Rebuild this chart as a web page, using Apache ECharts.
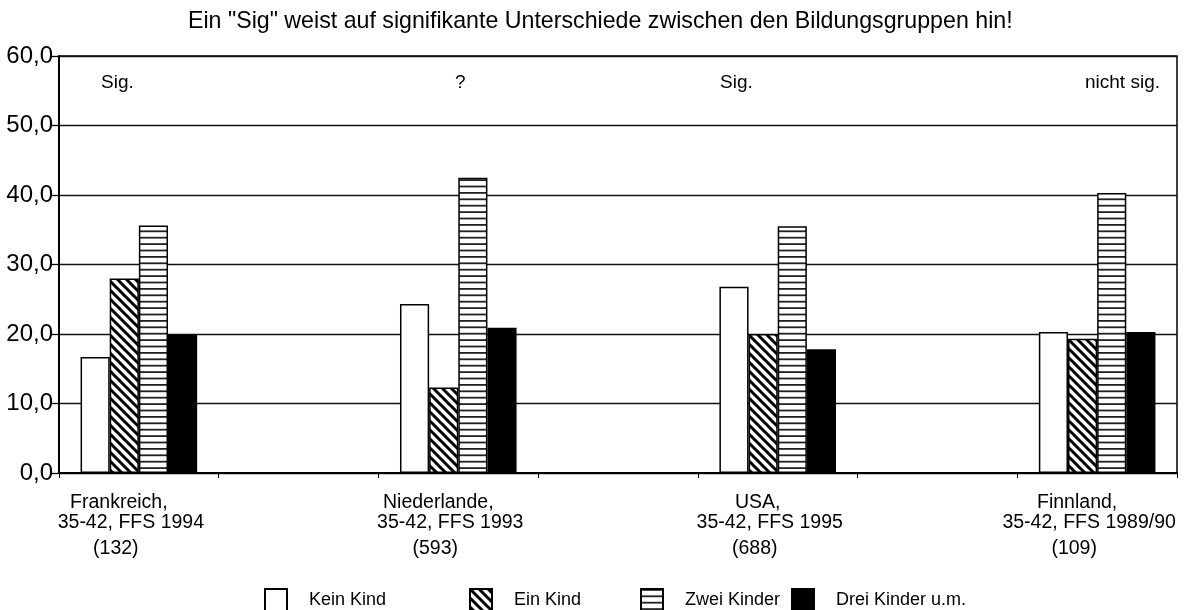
<!DOCTYPE html>
<html>
<head>
<meta charset="utf-8">
<title>Bildungsgruppen</title>
<script src="https://cdn.jsdelivr.net/npm/echarts@6/dist/echarts.min.js"></script>
<style>
  html, body { margin: 0; padding: 0; background: #fff; }
  #chart { width: 1185px; height: 610px; }
</style>
</head>
<body>
<div id="chart"></div>
<script>
// Länder / Erhebungen
const countries = ["Frankreich,", "Niederlande,", "USA,", "Finnland,"];
const surveys = ["35-42, FFS 1994", "35-42, FFS 1993", "35-42, FFS 1995", "35-42, FFS 1989/90"];
const sampleSizes = ["(132)", "(593)", "(688)", "(109)"];
const sigNotes = ["Sig.", "?", "Sig.", "nicht sig."];

const seriesNames = ["Kein Kind", "Ein Kind", "Zwei Kinder", "Drei Kinder u.m."];
const keinKind = [16.7, 24.3, 26.8, 20.3];
const einKind = [28.0, 12.3, 20.0, 19.3];
const zweiKinder = [35.6, 42.5, 35.5, 40.3];
const dreiKinder = [19.9, 20.9, 17.8, 20.3];

const yTicks = [0, 10, 20, 30, 40, 50, 60];

const FONT = '"Liberation Sans", Arial, sans-serif';

// zwischen den Ländern bleibt jeweils eine leere Kategorie
const categories = [];
countries.forEach((c, i) => {
  categories.push(c + "\n" + surveys[i] + "\n" + sampleSizes[i]);
  if (i < countries.length - 1) categories.push("");
});
function spread(values) {
  const out = [];
  values.forEach((v, i) => {
    out.push(v);
    if (i < values.length - 1) out.push("-");
  });
  return out;
}

// Muster
function diagonalPattern() {
  const s = 9;
  const c = document.createElement("canvas");
  c.width = s;
  c.height = s;
  const ctx = c.getContext("2d");
  ctx.fillStyle = "#fff";
  ctx.fillRect(0, 0, s, s);
  ctx.strokeStyle = "#000";
  ctx.lineWidth = 3;
  ctx.beginPath();
  [-s, 0, s].forEach((off) => {
    ctx.moveTo(off - 2, -2);
    ctx.lineTo(off + s + 2, s + 2);
  });
  ctx.stroke();
  return c;
}
function horizontalPattern() {
  const c = document.createElement("canvas");
  c.width = 4;
  c.height = 32;
  const ctx = c.getContext("2d");
  ctx.fillStyle = "#fff";
  ctx.fillRect(0, 0, 4, 32);
  ctx.fillStyle = "#222";
  for (let i = 0; i < 5; i++) {
    ctx.fillRect(0, i * 6.4, 4, 1.8);
  }
  return c;
}

const fills = [
  "#fff",
  { image: diagonalPattern(), repeat: "repeat" },
  { image: horizontalPattern(), repeat: "repeat" },
  "#000",
];
const seriesData = [keinKind, einKind, zweiKinder, dreiKinder];
const legendLefts = [264, 469, 640, 791];
const sigLefts = [101, 455, 720, 1085];

const chart = echarts.init(document.getElementById("chart"));

const option = {
  animation: false,
  backgroundColor: "#fff",
  textStyle: { fontFamily: FONT, color: "#000" },
  title: {
    text: 'Ein "Sig" weist auf signifikante Unterschiede zwischen den Bildungsgruppen hin!',
    left: 188,
    top: 10,
    padding: 0,
    textStyle: { fontFamily: FONT, fontSize: 23.2, fontWeight: "normal", color: "#000" },
  },
  legend: seriesNames.map((name, i) => ({
    data: [name],
    left: legendLefts[i],
    top: 588,
    padding: 0,
    itemWidth: 22,
    itemHeight: 22,
    icon: "rect",
    selectedMode: false,
    textStyle: { fontFamily: FONT, fontSize: 18, color: "#000", padding: [0, 0, 0, 17] },
  })),
  grid: {
    left: 59,
    right: 8,
    top: 56,
    bottom: 137,
    outerBoundsMode: "none",
    containLabel: false,
    show: true,
    borderColor: "#000",
    borderWidth: 1.5,
    backgroundColor: "transparent",
  },
  xAxis: {
    type: "category",
    data: categories,
    axisLine: { lineStyle: { color: "#000", width: 2 } },
    axisTick: { show: true, length: 5, lineStyle: { color: "#000", width: 1 } },
    axisLabel: {
      interval: 0,
      margin: 19.5,
      color: "#000",
      formatter: function (value) {
        if (!value) return "";
        const p = value.split("\n");
        return "{a|" + p[0] + "}\n{b|" + p[1] + "}\n{c|" + p[2] + "}";
      },
      rich: {
        a: { fontFamily: FONT, fontSize: 19.5, color: "#000", lineHeight: 20, padding: [0, 40, 0, 0] },
        b: { fontFamily: FONT, fontSize: 19.5, color: "#000", lineHeight: 21, padding: [0, 16, 0, 0] },
        c: { fontFamily: FONT, fontSize: 19.5, color: "#000", lineHeight: 31, padding: [0, 46, 0, 0] },
      },
    },
  },
  yAxis: {
    type: "value",
    min: yTicks[0],
    max: yTicks[yTicks.length - 1],
    interval: 10,
    axisLine: { show: true, lineStyle: { color: "#000", width: 2 } },
    axisTick: { show: true, length: 8, lineStyle: { color: "#000", width: 1.3 } },
    axisLabel: {
      margin: 6,
      color: "#000",
      fontFamily: FONT,
      fontSize: 24,
      formatter: function (v) {
        return v.toFixed(1).replace(".", ",");
      },
    },
    splitLine: { show: true, lineStyle: { color: "#111", width: 1.4 } },
  },
  graphic: sigNotes.map((t, i) => ({
    type: "text",
    left: sigLefts[i],
    top: 73,
    style: { text: t, font: "19px " + FONT, fill: "#000" },
  })),
  series: seriesNames.map((name, i) => ({
    name: name,
    type: "bar",
    data: spread(seriesData[i]),
    barGap: "0%",
    barCategoryGap: "27%",
    itemStyle: {
      color: fills[i],
      borderColor: "#000",
      borderWidth: 1.5,
    },
    emphasis: { disabled: true },
  })),
};

chart.setOption(option);
</script>
</body>
</html>
